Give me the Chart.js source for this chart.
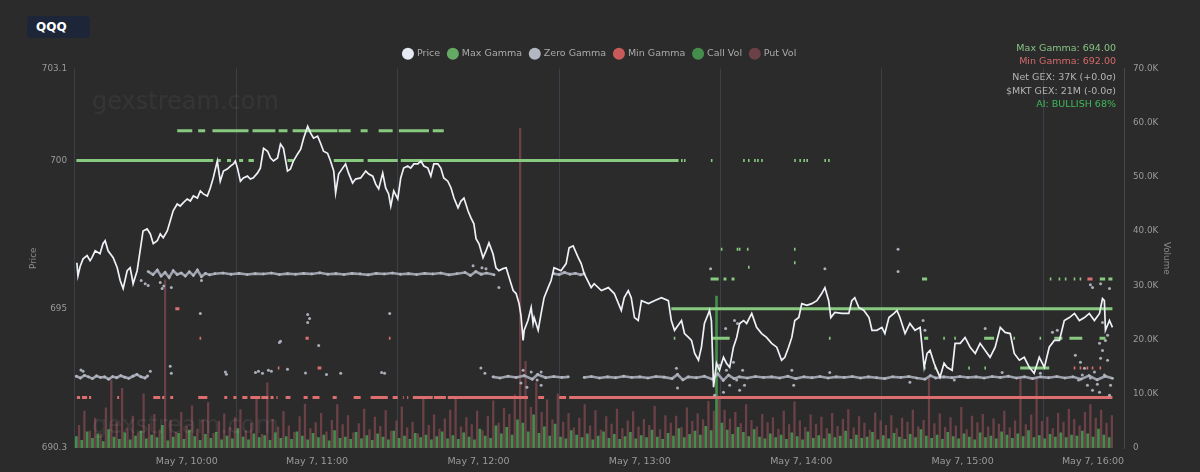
<!DOCTYPE html>
<html>
<head>
<meta charset="utf-8">
<title>QQQ gamma levels</title>
<script src="https://cdn.jsdelivr.net/npm/chart.js@4.4.1/dist/chart.umd.min.js"></script>
<style>
  html, body { margin: 0; padding: 0; background: #2b2b2b; }
  body { width: 1200px; height: 472px; overflow: hidden; position: relative; font-family: "DejaVu Sans", sans-serif; }
  #wrap { position: absolute; left: 0; top: 0; width: 1200px; height: 472px; }
  .badge { position: absolute; left: 27px; top: 16px; width: 63px; height: 22px; background: #1c2638; border-radius: 4px;
           color: #fff; font-weight: bold; font-size: 12px; line-height: 22px; padding-left: 9px; box-sizing: border-box; }
  .info { position: absolute; right: 84px; font-size: 9.5px; line-height: 12px; text-align: right; white-space: nowrap; }
</style>
</head>
<body>
<div id="wrap"><canvas id="gex-chart" width="1200" height="472"></canvas></div>
<div class="badge">QQQ</div>
<div class="info" style="top:42px;color:#86c386">Max Gamma: 694.00</div>
<div class="info" style="top:55px;color:#d46a6a">Min Gamma: 692.00</div>
<div class="info" style="top:71px;color:#b4b4b4">Net GEX: 37K (+0.0σ)</div>
<div class="info" style="top:85px;color:#b4b4b4">$MKT GEX: 21M (-0.0σ)</div>
<div class="info" style="top:98px;color:#3fba5a">AI: BULLISH 68%</div>
<script>
// session opens 9:30 -> all times below are minutes after the open
const OPEN = 570
const hourTicks = ['10:00', '11:00', '12:00', '13:00', '14:00', '15:00', '16:00']
const legendNames = ['Price', 'Max Gamma', 'Zero Gamma', 'Min Gamma', 'Call Vol', 'Put Vol']

const priceT = [
  0.7, 1.1, 1.9, 3.0, 4.5, 5.6, 6.3, 7.5, 9.3, 10.4,
  11.2, 12.3, 14.2, 15.7, 16.8, 17.9, 19.4, 20.5, 21.2, 21.6,
  23.1, 24.2, 25.3, 26.8, 28.0, 29.1, 30.6, 31.7, 32.8, 34.3,
  35.4, 36.5, 38.0, 39.1, 40.2, 41.7, 42.9, 44.0, 45.5, 46.6,
  47.7, 49.2, 50.3, 51.4, 52.9, 54.0, 55.2, 56.6, 57.8, 58.9,
  59.6, 60.4, 61.5, 62.6, 64.1, 65.2, 66.3, 67.8, 68.9, 70.1,
  71.6, 72.7, 73.8, 75.3, 76.4, 77.5, 79.0, 80.1, 81.2, 82.7,
  83.9, 85.0, 86.5, 87.6, 88.7, 90.2, 91.3, 92.4, 93.9, 95.0,
  96.2, 96.9, 98.0, 99.5, 100.6, 101.7, 103.2, 104.3, 106.2, 108.1,
  109.2, 110.7, 111.8, 112.9, 114.4, 115.5, 116.6, 117.4, 118.5, 120.0,
  121.1, 122.2, 123.7, 124.8, 126.0, 127.5, 128.6, 129.7, 131.2, 132.3,
  133.4, 134.9, 136.0, 137.1, 138.6, 139.8, 140.9, 142.4, 143.5, 144.6,
  146.1, 147.2, 148.3, 149.1, 150.2, 151.7, 152.8, 153.9, 155.4, 156.5,
  157.6, 159.1, 160.3, 161.4, 162.9, 164.0, 165.1, 165.8, 166.6, 167.0,
  168.4, 169.6, 170.3, 170.7, 172.2, 173.3, 174.4, 175.9, 177.0, 178.1,
  180.7, 182.6, 183.7, 185.2, 187.1, 188.2, 189.3, 191.9, 193.0, 195.7,
  198.3, 200.5, 203.1, 204.2, 205.7, 206.8, 208.0, 209.4, 210.6, 213.2,
  215.4, 218.0, 220.6, 221.7, 222.9, 225.5, 226.6, 228.1, 229.2, 230.4,
  231.8, 232.9, 234.0, 235.5, 235.9, 236.6, 237.4, 238.5, 239.6, 241.1,
  242.2, 243.4, 244.8, 246.0, 247.1, 248.6, 249.7, 251.6, 253.4, 255.3,
  257.1, 259.0, 260.9, 262.7, 263.9, 265.3, 266.5, 267.6, 269.1, 270.2,
  272.1, 273.9, 275.8, 277.6, 278.8, 280.2, 281.0, 282.5, 285.1, 287.7,
  288.8, 289.9, 291.4, 293.3, 295.2, 296.3, 298.1, 300.0, 301.1, 302.6,
  304.5, 305.6, 306.7, 308.6, 310.4, 312.3, 314.2, 315.7, 316.8, 317.9,
  319.4, 320.5, 321.6, 323.1, 324.2, 326.1, 327.2, 329.1, 330.9, 332.8,
  334.7, 336.5, 338.4, 340.2, 342.1, 344.0, 345.8, 347.7, 349.2, 351.1,
  352.9, 354.8, 356.6, 358.5, 360.4, 362.2, 364.1, 366.0, 367.8, 369.7,
  371.6, 373.4, 375.3, 377.1, 379.0, 380.9, 382.0, 382.7, 383.1, 384.6,
  385.7
]
const priceVal = [
  696.55, 696.11, 696.42, 696.68, 696.79, 696.62, 696.72, 696.95, 696.85, 697.19,
  697.29, 696.95, 696.72, 696.38, 695.95, 695.68, 696.28, 696.38, 696.05, 695.84,
  696.28, 696.95, 697.62, 697.69, 697.52, 697.19, 697.29, 697.52, 697.39, 697.62,
  697.96, 698.30, 698.53, 698.46, 698.57, 698.70, 698.63, 698.80, 698.73, 698.97,
  698.87, 698.80, 699.07, 699.41, 699.98, 699.30, 699.64, 699.71, 699.81, 699.88,
  699.98, 699.74, 699.30, 699.41, 699.47, 699.37, 699.41, 699.57, 699.74, 700.41,
  700.31, 700.08, 699.98, 700.08, 700.55, 700.41, 699.64, 699.71, 699.98, 700.21,
  700.38, 700.75, 701.15, 700.92, 700.75, 700.82, 700.58, 700.31, 700.24, 699.98,
  699.64, 698.90, 699.54, 699.74, 699.88, 699.57, 699.24, 699.37, 699.41, 699.64,
  699.54, 699.47, 699.20, 699.04, 699.57, 699.07, 698.87, 698.46, 698.97, 698.70,
  699.41, 699.74, 699.81, 699.74, 699.88, 699.88, 699.98, 699.81, 699.74, 699.47,
  699.88, 699.88, 699.74, 699.41, 699.30, 699.07, 698.73, 698.40, 698.63, 698.73,
  698.30, 698.06, 697.86, 697.36, 697.19, 696.72, 696.95, 697.22, 696.85, 696.38,
  696.28, 696.35, 696.38, 696.05, 695.61, 695.51, 695.17, 694.77, 693.93, 694.27,
  694.60, 695.04, 694.50, 694.70, 694.27, 694.84, 695.37, 695.71, 695.95, 696.38,
  696.28, 696.52, 697.05, 697.12, 696.72, 696.52, 696.18, 695.71, 695.84, 695.61,
  695.71, 695.51, 694.94, 695.37, 695.61, 695.37, 694.70, 694.60, 695.27, 695.17,
  695.27, 695.37, 695.27, 694.60, 694.27, 694.60, 694.16, 694.03, 693.93, 693.49,
  693.26, 693.70, 694.50, 694.84, 694.94, 694.60, 692.35, 693.16, 692.92, 693.36,
  693.16, 693.02, 693.70, 694.03, 694.50, 694.60, 694.50, 694.84, 694.37, 694.16,
  694.03, 693.83, 693.70, 693.26, 693.36, 693.70, 694.03, 694.60, 694.70, 695.17,
  695.11, 695.17, 695.27, 695.51, 695.71, 695.27, 694.70, 694.87, 694.84, 694.84,
  695.27, 695.37, 695.04, 694.94, 694.70, 694.27, 694.27, 694.37, 694.16, 694.70,
  694.84, 694.94, 694.70, 694.16, 694.50, 694.27, 694.37, 693.02, 693.49, 693.59,
  693.16, 692.92, 692.69, 693.16, 693.02, 692.92, 693.83, 693.83, 694.03, 693.70,
  693.49, 693.83, 693.59, 693.36, 693.70, 694.37, 694.20, 694.16, 693.49, 693.26,
  693.36, 693.02, 692.82, 693.36, 693.02, 693.70, 693.93, 693.93, 694.60, 694.70,
  694.84, 694.60, 694.70, 694.84, 694.60, 694.84, 695.34, 695.27, 694.27, 694.60,
  694.37
]

// [from, to, strike] — minutes after open during which the level held
const maxGammaRuns = [
  [0.5, 51.4, 700], [53, 54.2, 700], [56.5, 58, 700], [61, 62.5, 700], [64.5, 66.5, 700],
  [79, 81.2, 700], [96.2, 107.3, 700], [108.8, 120, 700], [121.1, 224.4, 700],
  [225.3, 225.9, 700], [226.4, 227, 700], [236.4, 237, 700], [248.4, 249, 700], [250.2, 250.8, 700],
  [252.5, 253.1, 700], [253.6, 254.2, 700], [255.1, 255.7, 700], [267.4, 268, 700], [269.3, 269.9, 700],
  [270.8, 271.4, 700], [271.9, 272.5, 700], [278.6, 279.2, 700], [280, 280.6, 700],
  [38, 43.6, 701], [45.8, 48.4, 701], [51.1, 64.5, 701], [66, 74.5, 701], [75.7, 79, 701],
  [80.9, 97.6, 701], [98, 102.5, 701], [106.2, 108.8, 701], [112.9, 118.1, 701], [120.4, 131.6, 701],
  [133, 137.1, 701],
  [240.1, 240.7, 697], [246, 246.6, 697], [246.8, 247.4, 697], [249.8, 250.4, 697], [267.3, 267.9, 697],
  [267.3, 267.9, 696.55], [250.2, 250.8, 696.4],
  [236.3, 239.3, 696], [241.1, 242.2, 696], [244.1, 245.2, 696], [314.9, 316.8, 696], [362.4, 363, 696],
  [365.7, 366.3, 696], [368, 368.6, 696], [371.3, 371.9, 696], [373.5, 374.1, 696], [381, 383, 696],
  [384.2, 385.7, 696],
  [221.7, 385.7, 695],
  [222.6, 223.2, 694], [236.6, 243.4, 694], [280.3, 280.9, 694], [315.7, 317.2, 694], [322.8, 323.4, 694],
  [326.9, 327.5, 694], [338, 341.7, 694], [348.9, 349.5, 694], [358.6, 359.2, 694], [364.1, 367.1, 694],
  [369.7, 374.5, 694], [380.9, 383.1, 694],
  [315.7, 316.3, 693], [319.5, 320.1, 693], [332.1, 332.7, 693], [338.1, 338.7, 693], [351.4, 362.2, 693]
]

const minGammaRuns = [
  [0.7, 1.9, 692], [2.6, 4.5, 692], [5.2, 6.0, 692], [15.7, 16.4, 692], [29.1, 31.7, 692],
  [32.4, 33.2, 692], [35.4, 36.5, 692], [45.8, 49.2, 692], [55.5, 56.6, 692], [58.9, 60.0, 692],
  [62.2, 64.1, 692], [65.2, 68.9, 692], [69.3, 71.9, 692], [72.7, 73.8, 692], [74.9, 75.3, 692],
  [78.3, 80.1, 692], [85.0, 86.5, 692], [88.3, 90.9, 692], [95.8, 97.3, 692], [103.6, 106.2, 692],
  [109.9, 116.3, 692], [118.1, 120.0, 692], [121.9, 122.2, 692], [123.5, 123.9, 692], [125.6, 133.0, 692],
  [133.4, 137.9, 692], [138.6, 168.4, 692], [172.2, 174.4, 692], [180.0, 182.6, 692], [183.7, 385.7, 692],
  [37.3, 38.8, 695],
  [46.3, 46.9, 694], [85.7, 86.9, 694], [116.7, 117.3, 694],
  [75.4, 76.0, 693], [90.2, 91.6, 693], [371.3, 371.9, 693], [373.5, 374.1, 693], [376.1, 376.7, 693],
  [378, 378.6, 693], [380.9, 381.5, 693],
  [376.4, 378.3, 696]
]

// zero gamma band, null = level not published
const zgT = [
  0.5, 2, 3.5, 5, 6.5, 8, 9.5, 11, 12.5, 14, 15.5, 17, 18.5, 20, 21.5, 23, 24.5, 26, 27, 27.5,
  27.2, 29, 30.6, 32, 33.5, 35, 36.5, 38, 39.5, 41, 42.5, 44, 45.5, 47, 48.5, 50, 52, 55, 58, 61,
  64, 67, 70, 73, 76, 79, 82, 85, 88, 91, 94, 97, 100, 103, 106, 109, 112, 115, 118, 121,
  124, 127, 130, 133, 136, 139, 142, 145, 147, 149, 151, 153, 155.8, 155.8,
  155.4, 158, 161, 164, 167, 170, 172, 175, 178, 181, 183.4, 183.4,
  178, 180, 182, 184, 186, 188, 189.3, 189.3,
  189.3, 192, 195, 198, 201, 204, 207, 210, 213, 216, 219, 222, 224, 226, 228, 231, 234, 237, 239, 241,
  243, 245, 247, 250, 253, 256, 259, 262, 265, 268, 271, 274, 277, 280, 283, 286, 289, 292, 295, 298,
  301, 304, 307, 310, 313, 316, 318, 320, 323, 326, 329, 332, 335, 338, 341, 344, 347, 350, 353, 356,
  359, 362, 365, 368, 371, 374, 377, 380, 383, 385.7
]
const zgVal = [
  692.72, 692.66, 692.75, 692.70, 692.64, 692.73, 692.68, 692.70, 692.62, 692.71, 692.67, 692.74, 692.69, 692.65, 692.72, 692.78, 692.70, 692.66, 692.73, null,
  696.25, 696.15, 696.30, 696.10, 696.22, 696.05, 696.28, 696.15, 696.20, 696.10, 696.24, 696.12, 696.30, 696.08, 696.19, 696.14, 696.18, 696.20, 696.16, 696.19,
  696.15, 696.18, 696.17, 696.20, 696.15, 696.18, 696.16, 696.19, 696.17, 696.21, 696.16, 696.18, 696.15, 696.19, 696.17, 696.14, 696.19, 696.17, 696.20, 696.16,
  696.18, 696.15, 696.19, 696.17, 696.20, 696.14, 696.18, 696.22, 696.12, 696.25, 696.16, 696.20, 696.14, null,
  692.70, 692.66, 692.72, 692.68, 692.74, 692.62, 692.78, 692.67, 692.71, 692.68, 692.70, null,
  696.18, 696.15, 696.22, 696.16, 696.19, 696.14, 696.18, null,
  692.68, 692.71, 692.66, 692.70, 692.67, 692.72, 692.68, 692.70, 692.66, 692.71, 692.69, 692.64, 692.78, 692.60, 692.70, 692.67, 692.72, 692.62, 692.80, 692.58,
  692.76, 692.64, 692.70, 692.66, 692.71, 692.68, 692.70, 692.66, 692.72, 692.64, 692.70, 692.67, 692.71, 692.66, 692.70, 692.68, 692.71, 692.66, 692.70, 692.67,
  692.64, 692.70, 692.68, 692.71, 692.66, 692.62, 692.74, 692.66, 692.70, 692.67, 692.71, 692.68, 692.70, 692.66, 692.71, 692.68, 692.72, 692.66, 692.70, 692.64,
  692.70, 692.67, 692.71, 692.66, 692.70, 692.62, 692.74, 692.60, 692.72, 692.65
]

// stray zero gamma prints away from the band
const zgOutT = [
  2.2, 3.0, 24.6, 26.1, 27.2, 28.0, 31.7, 32.4, 33.0, 35.4, 35.8, 35.8, 46.6, 47.0, 55.9, 56.3, 67.1, 68.2, 69.7, 71.9,
  73.0, 76.0, 76.4, 79.0, 85.7, 86.5, 86.5, 87.2, 90.6, 93.5, 98.8, 114.0, 115.1, 117.0, 148.0, 151.3, 152.8, 157.6, 150.9, 152.4,
  165.8, 166.6, 168.0, 169.6, 171.8, 173.3, 173.3, 223.6, 224.0, 236.3, 237.8, 239.6, 241.1, 241.9, 242.2, 243.4, 244.8, 245.2, 246.0, 246.3,
  247.1, 248.2, 248.9, 266.5, 267.2, 278.8, 280.6, 306.0, 306.0, 310.4, 315.3, 316.0, 326.9, 338.4, 344.7, 358.9, 363.4, 365.2, 371.9, 373.8,
  375.3, 373.1, 374.5, 376.4, 377.5, 379.0, 380.1, 378.3, 381.3, 382.0, 383.1, 383.9, 385.0, 384.6, 382.7, 380.9, 380.9, 382.0, 383.9, 377.5,
  378.3, 381.3, 384.6
]
const zgOutVal = [
  692.93, 692.89, 695.95, 695.84, 695.78, 692.89, 695.88, 695.68, 695.76, 693.06, 695.71, 692.82, 694.84, 695.95, 692.86, 692.79, 692.85, 692.89, 692.82, 692.92,
  692.89, 693.86, 693.90, 692.96, 692.83, 694.80, 694.53, 694.67, 693.76, 692.78, 692.82, 692.85, 692.82, 694.84, 696.45, 696.38, 696.35, 695.71, 693.00, 692.82,
  692.49, 692.92, 692.35, 692.86, 692.59, 692.86, 692.42, 692.99, 692.32, 696.35, 692.08, 693.09, 692.18, 694.33, 692.92, 692.42, 693.19, 694.60, 692.59, 694.50,
  692.25, 692.92, 692.42, 692.92, 692.42, 696.35, 692.85, 697.00, 696.25, 692.52, 694.60, 694.27, 692.59, 694.33, 692.85, 692.82, 694.20, 694.27, 693.43, 693.19,
  692.99, 692.59, 692.76, 692.42, 692.66, 692.86, 692.45, 692.25, 693.33, 693.59, 693.93, 693.26, 692.42, 692.08, 692.76, 692.18, 693.83, 694.53, 694.10, 695.81,
  695.71, 695.84, 695.68
]

// volume in thousands, 2-minute buckets from the open
const callVol = [
  2.1, 1.4, 3.0, 1.8, 2.6, 1.2, 3.4, 2.0, 1.6, 2.8,
  1.5, 2.2, 3.1, 1.7, 2.4, 1.9, 4.2, 1.3, 2.0, 2.7,
  1.6, 3.3, 2.1, 1.4, 2.5, 1.8, 2.9, 1.5, 2.2, 1.7,
  3.6, 2.0, 1.5, 2.6, 1.9, 2.3, 1.4, 2.8, 1.8, 2.1,
  1.6, 3.0, 2.2, 1.5, 2.7, 1.9, 2.4, 1.3, 3.2, 1.8,
  2.0, 1.6, 2.9, 1.7, 2.3, 1.4, 2.6, 2.0, 1.5, 3.1,
  1.8, 2.2, 1.6, 2.7, 1.9, 2.4, 1.5, 2.1, 3.0, 1.7,
  2.3, 1.6, 2.8, 2.0, 1.5, 3.5, 2.2, 1.8, 4.1, 2.6,
  3.8, 2.4, 5.2, 4.6, 3.0, 6.1, 2.7, 3.9, 2.2, 4.4,
  2.0, 1.7, 3.2, 2.4, 1.9, 2.6, 1.5, 2.2, 3.0, 1.8,
  2.5, 1.6, 2.1, 2.9, 1.7, 2.3, 1.9, 3.3, 2.0, 1.6,
  2.7, 2.2, 3.6, 1.9, 2.5, 3.1, 2.4, 4.0, 3.2, 28.0,
  4.6, 3.3, 2.5, 3.8, 2.9, 2.1, 3.4, 2.0, 1.7, 2.6,
  1.9, 2.4, 1.6, 2.8, 2.1, 1.5, 3.0, 1.8, 2.3, 1.7,
  2.6, 1.9, 2.2, 3.1, 1.6, 2.4, 1.8, 2.0, 2.9, 1.5,
  2.3, 1.7, 2.7, 2.0, 1.6, 2.5, 1.9, 3.4, 2.2, 1.8,
  2.4, 1.6, 2.9, 2.1, 1.7, 2.6, 2.0, 1.5, 2.8, 1.9,
  2.2, 1.7, 3.0, 2.4, 1.8, 2.6, 2.1, 3.2, 1.9, 2.3,
  1.7, 2.5, 2.0, 2.8, 1.9, 2.4, 2.2, 3.1, 2.6, 2.0,
  3.5, 2.4, 1.9
]
const putVol = [
  4.2, 6.8, 3.1, 5.5, 2.6, 7.4, 12.5, 4.8, 11.0, 3.6,
  5.9, 2.8, 10.0, 4.4, 6.2, 3.3, 31.0, 5.1, 2.9, 6.6,
  4.0, 7.8, 3.5, 5.2, 8.4, 2.7, 4.9, 6.3, 3.8, 5.6,
  7.1, 3.2, 4.6, 9.0, 2.5, 12.0, 5.3, 3.9, 6.7, 4.1,
  2.9, 5.8, 8.1, 3.6, 4.7, 6.4, 3.0, 5.1, 8.0, 4.3,
  6.0, 2.8, 4.5, 7.2, 3.4, 5.7, 4.0, 6.9, 3.1, 5.0,
  7.6, 3.7, 4.8, 2.6, 9.0, 4.2, 6.1, 3.5, 5.4, 7.0,
  9.0, 3.9, 5.6, 4.3, 6.8, 3.2, 5.9, 8.7, 4.6, 7.3,
  6.2, 9.8, 59.0, 16.0, 7.5, 12.0, 6.6, 8.9, 5.2, 10.0,
  4.8, 6.4, 3.7, 5.5, 8.0, 4.1, 6.9, 3.3, 5.8, 4.4,
  7.2, 3.6, 5.0, 6.7, 3.9, 5.3, 4.2, 7.7, 3.4, 6.0,
  4.6, 5.9, 3.8, 7.4, 4.9, 6.3, 5.2, 8.6, 6.8, 9.5,
  7.0, 5.4, 6.6, 4.5, 8.0, 5.1, 3.9, 6.2, 4.7, 5.6,
  3.5, 6.8, 4.3, 8.5, 5.0, 3.8, 6.1, 4.4, 5.7, 3.6,
  6.4, 4.0, 5.3, 7.1, 3.7, 5.8, 4.6, 3.3, 6.5, 5.0,
  4.2, 6.0, 3.6, 5.5, 4.8, 7.0, 3.9, 5.1, 13.0, 4.5,
  6.3, 3.8, 5.6, 4.1, 7.5, 3.4, 5.9, 4.7, 6.2, 3.9,
  5.4, 4.4, 6.8, 3.7, 5.0, 13.0, 4.3, 6.1, 13.0, 4.9,
  5.7, 3.6, 6.4, 4.8, 7.2, 5.3, 4.1, 6.6, 8.0, 5.5,
  7.0, 4.6, 6.0
]

const FONT = '"DejaVu Sans", sans-serif'

const toXY = (ts, vs) => ts.map((t, i) => ({ x: OPEN + t, y: vs[i] }))
const runsToLine = (runs) => {
  const pts = []
  runs.forEach(([a, b, lvl]) => {
    pts.push({ x: OPEN + a, y: lvl }, { x: OPEN + b, y: lvl }, { x: OPEN + b, y: null })
  })
  return pts
}
// calls printed in the first minute of each bucket, puts in the second
const volXY = (vals, minute) => vals.map((v, i) => ({ x: OPEN + minute + i * 2, y: v }))
const clockToMin = (s) => { const [h, m] = s.split(':').map(Number); return h * 60 + m }
const fmtClock = (v) => {
  const h = Math.floor(v / 60)
  const m = String(Math.round(v % 60)).padStart(2, '0')
  return `May 7, ${h}:${m}`
}

const watermark = {
  id: 'watermark',
  beforeDatasetsDraw(chart) {
    const c = chart.ctx
    c.save()
    c.font = `24px ${FONT}`
    c.fillStyle = 'rgba(255,255,255,0.05)'
    c.fillText('gexstream.com', 92, 103)
    c.restore()
  },
  afterDatasetsDraw(chart) {
    const c = chart.ctx
    c.save()
    c.font = `24px ${FONT}`
    c.fillStyle = 'rgba(255,255,255,0.07)'
    c.fillText('gexstream.com', 92, 427)
    c.restore()
  }
}

const ctx = document.getElementById('gex-chart').getContext('2d')

new Chart(ctx, {
  type: 'line',
  plugins: [watermark],
  data: {
    datasets: [
      {
        label: 'Price', data: toXY(priceT, priceVal), order: 1,
        borderColor: '#eef1f6', backgroundColor: '#e6ebf3', borderWidth: 1.7,
        pointRadius: 0, tension: 0
      },
      {
        label: 'Max Gamma', data: runsToLine(maxGammaRuns), order: 2,
        borderColor: '#86c97f', backgroundColor: '#64a964', borderWidth: 3,
        borderCapStyle: 'butt', pointRadius: 0, spanGaps: false
      },
      {
        label: 'Zero Gamma', data: toXY(zgT, zgVal), order: 3,
        borderColor: 'rgba(170,174,186,0.9)', backgroundColor: '#8c8f97', borderWidth: 2.6,
        pointRadius: 1.4, pointBorderWidth: 0, pointBackgroundColor: '#b3b7c2', spanGaps: false
      },
      {
        label: 'zg-stray', data: toXY(zgOutT, zgOutVal), order: 3.5,
        showLine: false, pointRadius: 1.5, pointBorderWidth: 0,
        pointBackgroundColor: '#a9adb8', borderColor: '#a9adb8'
      },
      {
        label: 'Min Gamma', data: runsToLine(minGammaRuns), order: 4,
        borderColor: '#dd6e6e', backgroundColor: '#c85a5a', borderWidth: 3,
        borderCapStyle: 'butt', pointRadius: 0, spanGaps: false
      },
      {
        type: 'bar', label: 'Call Vol', data: volXY(callVol, 0.5), order: 5, yAxisID: 'yVol',
        backgroundColor: 'rgba(80,185,92,0.7)', borderWidth: 0, barThickness: 2, grouped: false
      },
      {
        type: 'bar', label: 'Put Vol', data: volXY(putVol, 1.5), order: 6, yAxisID: 'yVol',
        backgroundColor: 'rgba(205,100,115,0.4)', borderWidth: 0, barThickness: 1.6, grouped: false
      }
    ]
  },
  options: {
    responsive: false,
    animation: false,
    layout: { padding: { top: 40.5, left: 24, right: 24, bottom: 0 } },
    scales: {
      x: {
        type: 'linear', min: OPEN, max: clockToMin('16:00'), offset: false,
        afterBuildTicks: (s) => { s.ticks = hourTicks.map(h => ({ value: clockToMin(h) })) },
        afterFit: (s) => { s.height = 24 },
        ticks: {
          align: 'inner', autoSkip: false, maxRotation: 0, padding: 8,
          color: '#9a9a9a', font: { family: FONT, size: 9.5 },
          callback: (v) => fmtClock(v)
        },
        grid: { color: 'rgba(95,108,140,0.3)', drawTicks: false },
        border: { display: false }
      },
      y: {
        position: 'left', min: 690.3, max: 703.1,
        afterFit: (s) => { s.width = 51 },
        ticks: {
          stepSize: 5, padding: 8, color: '#9a9a9a', font: { family: FONT, size: 8.8 },
          callback: (v) => Number.isInteger(v) ? String(v) : v.toFixed(1)
        },
        grid: { display: false, drawTicks: false },
        border: { display: false },
        title: { display: true, text: 'Price', color: '#8a8a8a', font: { family: FONT, size: 8.8 } }
      },
      yVol: {
        position: 'right', min: 0, max: 70,
        afterFit: (s) => { s.width = 52 },
        ticks: {
          stepSize: 10, padding: 9, color: '#9a9a9a', font: { family: FONT, size: 8.8 },
          callback: (v) => v === 0 ? '0' : `${v.toFixed(1)}K`
        },
        grid: { display: false, drawTicks: false },
        border: { display: true, color: '#474747' },
        title: { display: true, text: 'Volume', color: '#8a8a8a', font: { family: FONT, size: 8.8 } }
      }
    },
    plugins: {
      tooltip: { enabled: false },
      legend: {
        position: 'top',
        labels: {
          color: '#ababab', font: { family: FONT, size: 9.5 },
          usePointStyle: true, pointStyle: 'circle', boxWidth: 8.5, boxHeight: 8.5, padding: 8.5,
          filter: (item) => legendNames.includes(item.text),
          generateLabels: (chart) => Chart.defaults.plugins.legend.labels.generateLabels(chart)
            .map(item => ({ ...item, strokeStyle: item.fillStyle, lineWidth: 0 }))
        }
      }
    }
  }
}
)
</script>
</body>
</html>
